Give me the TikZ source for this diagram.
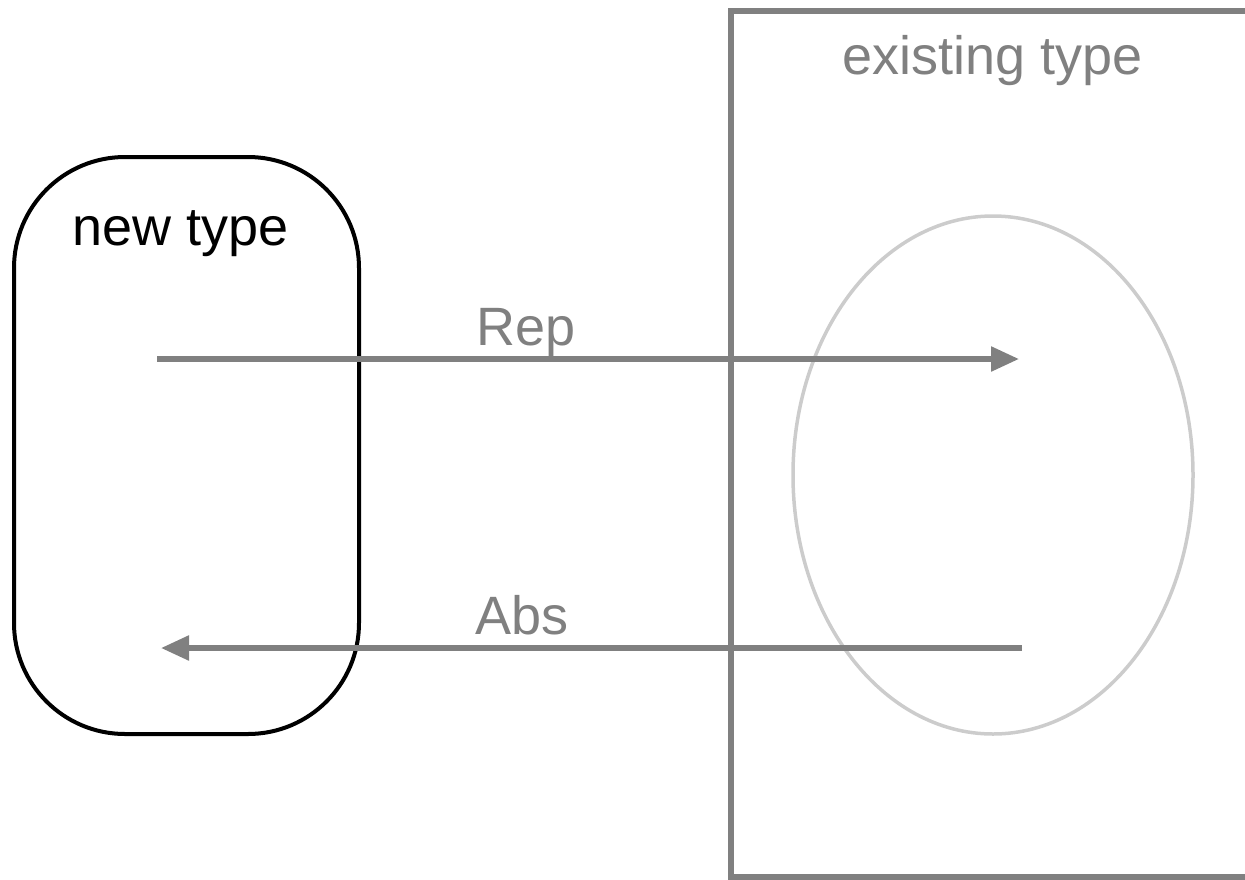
\documentclass[tikz,border=0pt]{standalone}
\usepackage{fontspec}
\setmainfont{Liberation Sans}
\usetikzlibrary{arrows.meta}
\definecolor{midgray}{HTML}{808080}
\definecolor{lightgray}{HTML}{CCCCCC}
\begin{document}
\begin{tikzpicture}[x=1pt,y=-1pt,
  lbl/.style={inner sep=0pt,anchor=base,font=\fontsize{54}{60}\selectfont},
  conn/.style={draw=midgray,line width=5.5pt,-{Triangle[length=28pt,width=24pt]},fill=midgray}]
\useasboundingbox (0,0) rectangle (1245,879);
\begin{scope}
\clip (0,0) rectangle (1245,879);
% existing type region
\draw[midgray,line width=5.5pt] (731,11) -- (1270,11) -- (1270,877) -- (731,877) -- cycle;
\end{scope}
\node[lbl,text=midgray] (existing) at (993,74) {existing type};
% ellipse
\draw[lightgray,line width=3.5pt] (993,475) ellipse [x radius=200, y radius=259];
% new type box
\draw[black,line width=4pt,rounded corners=111pt] (14,157) rectangle (359,734);
\node[lbl,text=black] (newtype) at (181,245) {new type};
% connectors
\coordinate (repS) at (157,359);
\coordinate (repE) at (1019,359);
\coordinate (absS) at (1022,648);
\coordinate (absE) at (161,648);
\draw[conn] (repS) -- (repE);
\draw[conn] (absS) -- (absE);
\node[lbl,text=midgray] (rep) at (526,345) {Rep};
\node[lbl,text=midgray] (abs) at (522,634) {Abs};
\end{tikzpicture}
\end{document}
